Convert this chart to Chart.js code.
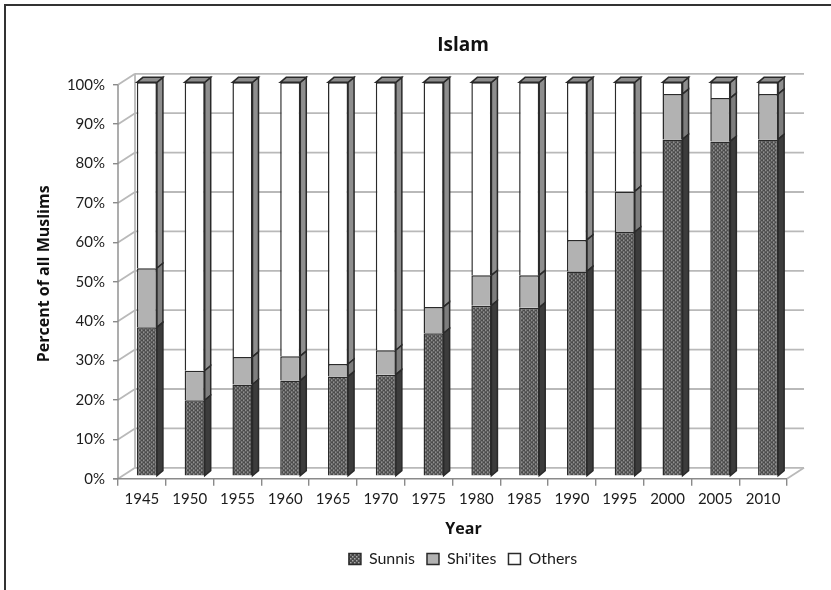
<!DOCTYPE html>
<html lang="en">
<head>
<meta charset="UTF-8">
<title>Islam</title>
<script src="https://cdn.jsdelivr.net/npm/chart.js"></script>
<style>
  html, body { margin: 0; padding: 0; background: #fff; }
  #wrap { position: relative; width: 831px; height: 590px; }
</style>
</head>
<body>
<div id="wrap"><canvas id="myChart" width="831" height="590"></canvas></div>
<script>
// Data
const years = ["1945","1950","1955","1960","1965","1970","1975","1980","1985","1990","1995","2000","2005","2010"];
const sunnis = [37.8, 19.3, 23.3, 24.3, 25.3, 25.8, 36.3, 43.3, 42.8, 52, 62, 85.5, 85, 85.5];
const shiites = [15, 7.5, 7, 6.2, 3.2, 6.2, 6.7, 7.7, 8.2, 8, 10.3, 11.5, 11, 11.5];
const others = [47.2, 73.2, 69.7, 69.5, 71.5, 68, 57, 49, 49, 40, 27.7, 3, 4, 3];

const FONT = "Lato, 'Open Sans', sans-serif";
const BOLD = "'Open Sans', sans-serif";
const INK = "#1c1c1c";
const GRID = "#b9b9b9";
// 3D look: depth of the room and of each bar
const wallDx = 17, wallDy = -11;
const barDx = 5, barDy = -2.5;
const depthX = 6, depthY = -5;

// dotted fill for the Sunnis bars
function dotPattern() {
  const c = document.createElement("canvas");
  c.width = 4; c.height = 4;
  const g = c.getContext("2d");
  g.fillStyle = "#4a4a4a";
  g.fillRect(0, 0, 4, 4);
  g.fillStyle = "#a8a8a8";
  g.fillRect(0, 0, 1.5, 1.5);
  g.fillRect(2, 2, 1.5, 1.5);
  return g.createPattern(c, "repeat");
}

function line(ctx, x1, y1, x2, y2) {
  ctx.beginPath();
  ctx.moveTo(x1, y1);
  ctx.lineTo(x2, y2);
  ctx.stroke();
}

function poly(ctx, pts, fill) {
  ctx.beginPath();
  pts.forEach((p, i) => i ? ctx.lineTo(p[0], p[1]) : ctx.moveTo(p[0], p[1]));
  ctx.closePath();
  ctx.fillStyle = fill;
  ctx.fill();
  ctx.stroke();
}

// axis titles are not centred on the axis in the original
function shiftTitle(scale, dx, dy) {
  const draw = scale.drawTitle;
  scale.drawTitle = function () {
    scale.ctx.save();
    scale.ctx.translate(dx, dy);
    draw.call(scale);
    scale.ctx.restore();
  };
}

// page frame, walls and floor of the 3D room
const roomPlugin = {
  id: "room",
  beforeDatasetsDraw(chart) {
    const { ctx, chartArea: a, scales: { y } } = chart;
    ctx.save();
    ctx.strokeStyle = "#333";
    ctx.lineWidth = 2;
    line(ctx, 4, 5, 831, 5);
    line(ctx, 5, 4, 5, 590);
    ctx.strokeStyle = GRID;
    ctx.lineWidth = 1.8;
    for (let v = 0; v <= 100; v += 10) {
      const py = y.getPixelForValue(v);
      line(ctx, a.left, py, a.left + wallDx, py + wallDy);
      line(ctx, a.left + wallDx, py + wallDy, a.right + wallDx, py + wallDy);
    }
    line(ctx, a.left + wallDx, a.top + wallDy, a.left + wallDx, a.bottom + wallDy);
    line(ctx, a.right, a.bottom, a.right + wallDx, a.bottom + wallDy);
    ctx.strokeStyle = "#8a8a8a";
    ctx.lineWidth = 1.4;
    line(ctx, a.left, a.top, a.left, a.bottom);
    line(ctx, a.left - 5, a.bottom, a.right, a.bottom);
    ctx.restore();
  },
  // the bars stand a little way into the room
  beforeDatasetDraw(chart, args) {
    const ctx = chart.ctx;
    ctx.save();
    ctx.translate(barDx, barDy);
    const fills = ["#3c3c3c", "#7d7d7d", "#8e8e8e"];
    ctx.strokeStyle = "#2a2a2a";
    ctx.lineWidth = 1.5;
    chart.getDatasetMeta(args.index).data.forEach((b) => {
      const right = b.x + b.width / 2;
      poly(ctx, [[right, b.y], [right + depthX, b.y + depthY], [right + depthX, b.base + depthY], [right, b.base]], fills[args.index]);
      if (args.index === 2) {
        poly(ctx, [[b.x - b.width / 2, b.y], [b.x - b.width / 2 + depthX, b.y + depthY], [right + depthX, b.y + depthY], [right, b.y]], "#8c8c8c");
      }
    });
  },
  afterDatasetDraw(chart) {
    chart.ctx.restore();
  },
  // title and legend sit over the room, right of the canvas centre
  afterLayout(chart) {
    chart.titleBlock.left += 52;
    chart.titleBlock.right += 52;
    chart.legend.left += 52;
    chart.legend.right += 52;
    shiftTitle(chart.scales.x, 11, 0);
    shiftTitle(chart.scales.y, 0, -8);
  }
};

new Chart(document.getElementById("myChart").getContext("2d"), {
  type: "bar",
  data: {
    labels: years,
    datasets: [
      { label: "Sunnis", data: sunnis, backgroundColor: dotPattern(), borderColor: "#2a2a2a", borderWidth: 1.5 },
      { label: "Shi'ites", data: shiites, backgroundColor: "#b2b2b2", borderColor: "#2a2a2a", borderWidth: 1.5 },
      { label: "Others", data: others, backgroundColor: "#ffffff", borderColor: "#2a2a2a", borderWidth: 1.5 }
    ]
  },
  options: {
    responsive: false,
    animation: false,
    events: [],
    layout: { padding: { left: 35, right: 44, top: 0, bottom: 13 } },
    datasets: { bar: { categoryPercentage: 1, barPercentage: 0.42 } },
    scales: {
      x: {
        stacked: true,
        grid: { drawOnChartArea: false, drawTicks: true, tickLength: 7, color: "#8a8a8a", offset: true, lineWidth: 1.4 },
        border: { display: false },
        ticks: { color: INK, font: { family: FONT, size: 15 }, padding: 4, maxRotation: 0, autoSkip: false },
        title: { display: true, text: "Year", color: "#111", font: { family: BOLD, size: 16, weight: "bold" }, padding: { top: 8, bottom: 0 } }
      },
      y: {
        stacked: true,
        min: 0,
        max: 100,
        afterFit(s) { s.width = 83; },
        grid: { drawOnChartArea: false, tickLength: 5, color: "#8a8a8a", lineWidth: 1.4 },
        border: { display: false },
        ticks: { stepSize: 10, color: INK, font: { family: FONT, size: 15 }, padding: 8, callback: (v) => v + "%" },
        title: { display: true, text: "Percent of all Muslims", color: "#111", font: { family: BOLD, size: 16, weight: "bold" }, padding: { top: 0, bottom: 4 } }
      }
    },
    plugins: {
      title: { display: true, text: "Islam", color: "#111", font: { family: BOLD, size: 19, weight: "bold" }, padding: { top: 34, bottom: 28 } },
      legend: {
        position: "bottom",
        labels: { color: INK, font: { family: FONT, size: 16 }, boxWidth: 12, boxHeight: 11, padding: 12 }
      },
      tooltip: { enabled: false }
    }
  },
  plugins: [roomPlugin]
});
</script>
</body>
</html>
